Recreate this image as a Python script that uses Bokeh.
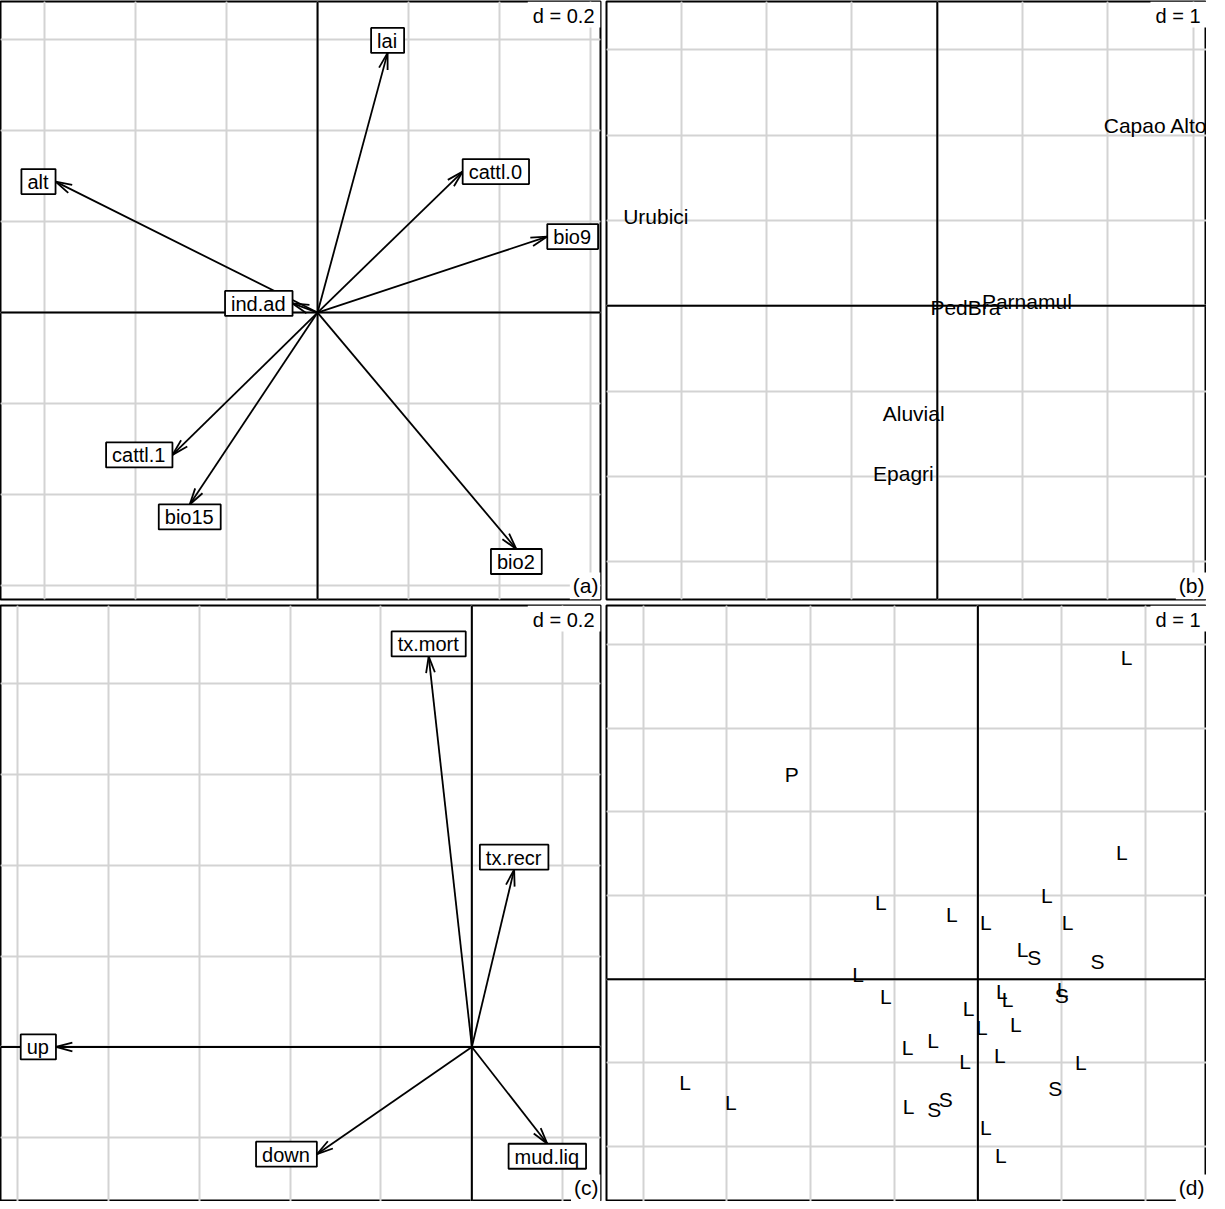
import numpy as np
from bokeh.plotting import figure
from bokeh.layouts import gridplot
from bokeh.models import Range1d, Grid, FixedTicker, Span
from bokeh.core.properties import value
from bokeh.embed import file_html
from bokeh.resources import INLINE

FONT = "Liberation Sans"

# ---------------- data ----------------
# (a) environmental variables (arrows)
env_vars = ["ind.ad", "alt", "bio2", "bio9", "bio15", "lai", "cattl.0", "cattl.1"]
env_x = [-0.055, -0.576, 0.437, 0.505, -0.281, 0.154, 0.319, -0.319]
env_y = [0.020, 0.288, -0.520, 0.167, -0.422, 0.571, 0.310, -0.313]
env_d = 0.2

# (b) sites (labels)
site_names = ["Urubici", "Capao Alto", "PedBra", "Parnamul", "Aluvial", "Epagri"]
site_x = [-3.30, 2.56, 0.33, 1.05, -0.277, -0.397]
site_y = [1.047, 2.11, -0.02, 0.056, -1.263, -1.966]
site_d = 1

# (c) response variables (arrows)
resp_vars = ["tx.mort", "tx.recr", "up", "down", "mud.liq"]
resp_x = [-0.095, 0.093, -0.915, -0.341, 0.166]
resp_y = [0.859, 0.390, 0.0, -0.236, -0.213]
resp_d = 0.2

# (d) observations (labels)
obs_labels = ["L", "P", "L", "L", "L", "L", "L", "L", "L", "S", "S", "L", "L", "L",
              "L", "L", "S", "L", "L", "L", "L", "L", "L", "L", "L", "L", "L", "S",
              "L", "S", "S", "L", "L"]
obs_x = [1.777, -2.223, 1.719, 0.823, -1.160, -0.312, 0.094, 1.070, 0.533, 0.673,
         1.429, -1.430, -1.100, 0.286, 0.354, 1.011, 1.002, -0.112, 0.453, 0.047,
         -0.534, -0.841, -0.152, 0.262, 1.229, -3.499, -2.952, 0.924, -0.829,
         -0.522, -0.384, 0.094, 0.274]
obs_y = [3.843, 2.442, 1.514, 0.996, 0.916, 0.777, 0.677, 0.677, 0.358, 0.259,
         0.208, 0.060, -0.207, -0.147, -0.239, -0.123, -0.191, -0.350, -0.538,
         -0.577, -0.736, -0.816, -0.987, -0.915, -0.995, -1.234, -1.473, -1.306,
         -1.521, -1.553, -1.434, -1.772, -2.103]
obs_d = 1

# ---------------- helpers ----------------
FRAME_W = 600


def make_panel(xr, yr, height, borders, d, sub):
    left, right, top, bottom = borders
    p = figure(width=FRAME_W + left + right, height=height,
               x_range=Range1d(*xr), y_range=Range1d(*yr),
               output_backend="svg", toolbar_location=None,
               x_axis_location=None, y_axis_location=None,
               min_border=0, min_border_left=left, min_border_right=right,
               min_border_top=top, min_border_bottom=bottom,
               background_fill_color="white", border_fill_color="white",
               outline_line_color="black", outline_line_width=2)
    xt = np.arange(np.ceil(xr[0] / d), np.floor(xr[1] / d) + 1) * d
    yt = np.arange(np.ceil(yr[0] / d), np.floor(yr[1] / d) + 1) * d
    p.add_layout(Grid(dimension=0, ticker=FixedTicker(ticks=list(xt)),
                      grid_line_color="#d3d3d3", grid_line_width=2))
    p.add_layout(Grid(dimension=1, ticker=FixedTicker(ticks=list(yt)),
                      grid_line_color="#d3d3d3", grid_line_width=2))
    p.add_layout(Span(location=0, dimension="width", line_color="black",
                      line_width=2, level="underlay"))
    p.add_layout(Span(location=0, dimension="height", line_color="black",
                      line_width=2, level="underlay"))
    p._d = d
    p._sub = sub
    p._xr = xr
    p._yr = yr
    return p


def finish_panel(p):
    xr, yr = p._xr, p._yr
    d = p._d
    dtxt = f"d = {d}"
    p.text(x=[xr[1]], y=[yr[1]], text=[dtxt], anchor=value("top_right"),
           text_font=value(FONT), text_font_size="20px", text_color="black",
           background_fill_color="white",
           padding=dict(left=5, right=6, top=3, bottom=1))
    p.text(x=[xr[1]], y=[yr[0]], text=[p._sub], anchor=value("bottom_right"),
           text_font=value(FONT), text_font_size="21px", text_color="black",
           background_fill_color="white",
           padding=dict(left=3, right=2, top=1, bottom=3))


def label_anchor(x, y):
    if x > y and x > -y:
        return "center_left"
    if x > y and x <= -y:
        return "top_center"
    if x <= y and x <= -y:
        return "center_right"
    return "bottom_center"


def draw_arrows(p, xs, ys, names, frame_w):
    xs = np.asarray(xs, dtype=float)
    ys = np.asarray(ys, dtype=float)
    scale = frame_w / (p._xr[1] - p._xr[0])  # px per unit
    hl = 17.0 / scale
    ang = np.deg2rad(15)
    p.segment(x0=np.zeros_like(xs), y0=np.zeros_like(ys), x1=xs, y1=ys,
              line_color="black", line_width=1.8)
    n = np.hypot(xs, ys)
    ux, uy = -xs / n, -ys / n
    hx0, hy0, hx1, hy1 = [], [], [], []
    for sgn in (1, -1):
        c, s = np.cos(sgn * ang), np.sin(sgn * ang)
        rx = ux * c - uy * s
        ry = ux * s + uy * c
        hx0 += list(xs)
        hy0 += list(ys)
        hx1 += list(xs + hl * rx)
        hy1 += list(ys + hl * ry)
    p.segment(x0=hx0, y0=hy0, x1=hx1, y1=hy1, line_color="black", line_width=1.8)
    for x, y, nm in zip(xs, ys, names):
        p.text(x=[x], y=[y], text=[nm], anchor=value(label_anchor(x, y)),
               text_font=value(FONT), text_font_size="20px", text_color="black",
               background_fill_color="white", border_line_color="black",
               border_line_width=1.8,
               padding=dict(left=6, right=7, top=2, bottom=1))


def draw_labels(p, xs, ys, names):
    p.text(x=xs, y=ys, text=names, anchor=value("center"),
           text_font=value(FONT), text_font_size="21px", text_color="black")


# ---------------- panels ----------------
pa = make_panel((-0.697, 0.622), (-0.631, 0.684), 602, (0, 3, 1, 3), env_d, "(a)")
draw_arrows(pa, env_x, env_y, env_vars, FRAME_W)
finish_panel(pa)

pb = make_panel((-3.878, 3.156), (-3.443, 3.567), 602, (3, 0, 1, 3), site_d, "(b)")
draw_labels(pb, site_x, site_y, site_names)
finish_panel(pb)

pc = make_panel((-1.037, 0.283), (-0.340, 0.971), 599, (0, 3, 3, 0), resp_d, "(c)")
draw_arrows(pc, resp_x, resp_y, resp_vars, FRAME_W)
finish_panel(pc)

pd = make_panel((-4.437, 2.731), (-2.656, 4.465), 599, (3, 0, 3, 0), obs_d, "(d)")
draw_labels(pd, obs_x, obs_y, obs_labels)
finish_panel(pd)

grid = gridplot([[pa, pb], [pc, pd]], toolbar_location=None)

open("out.html", "w").write(file_html(grid, INLINE))
